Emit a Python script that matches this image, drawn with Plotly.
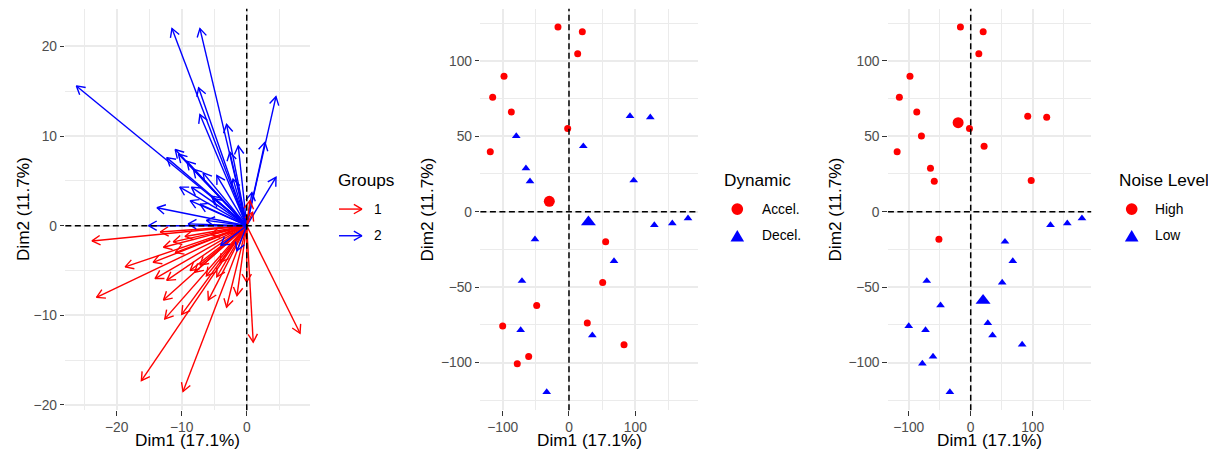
import numpy as np
import plotly.graph_objects as go

# ---------------- data ----------------
# Variable arrows (loadings), group 1 (red) and group 2 (blue)
group1_dim1 = [-23.8, -23.1, -18.7, -14.4, -14.1, -12.3, -12.8, -12.6, -10.0, -16.2,
               -9.8, -13.3, -12.8, -11.3, -8.7, -8.0, -6.2, -4.6, -5.9, -3.1,
               -1.5, 0.0, 1.0, 8.2, -7.2, -4.1, -5.5, -3.0, -11.0, -9.5]
group1_dim2 = [-1.7, -8.0, -4.6, -4.1, -5.9, -6.1, -8.3, -10.4, -9.9, -17.3,
               -18.5, -0.7, -2.4, -1.8, -5.0, -5.2, -5.6, -5.7, -8.3, -9.1,
               -7.8, -6.3, -13.0, -12.0, -4.4, -4.1, -1.0, -0.8, -3.0, -1.2]
group1_up_dim1 = [0.5, 0.9]
group1_up_dim2 = [2.8, 1.5]

group2_dim1 = [-26.2, -11.5, -7.2, -7.4, -7.2, -3.1, -1.3, -2.6, 4.5, 2.8,
               4.5, 0.8, -11.0, -12.3, -9.2, -8.2, -10.3, -8.5, -6.7, -4.6,
               -8.7, -7.2, -13.8, -5.4, -15.1, -9.0, -6.2, -1.5, -4.0, -2.1,
               -10.5, -5.1]
group2_dim2 = [15.6, 22.0, 22.0, 15.4, 12.4, 11.3, 8.9, 8.2, 14.4, 9.3,
               5.4, 3.7, 8.5, 7.6, 7.2, 6.3, 4.3, 4.3, 5.9, 5.6,
               2.8, 2.4, 2.0, 3.3, 0.0, 0.2, 0.6, -2.8, -2.2, 5.2,
               8.0, 3.0]

# Individuals
ind_dim1 = [-16.6, 20.1, 13.1, -98.0, -115.1, -87.0, -2.0, -118.7,
            55.3, 50.8, -48.7, -100.0, 27.6, 83.0, -60.8, -78.0,
            -79.5, -64.9, -58.8, 21.6, 92.0, 122.6, 97.6, -51.3,
            128.7, 155.8, 179.5, 67.9, -70.9, -72.9, 35.2, -33.6]
ind_dim2 = [122.3, 119.2, 104.6, 89.8, 75.9, 66.0, 55.2, 39.7,
            -19.9, -47.0, -62.1, -75.8, -73.8, -88.1, -96.0, -100.7,
            50.1, 28.7, 20.1, 43.4, 63.3, 62.5, 20.7, -18.3,
            -8.9, -7.7, -4.4, -32.7, -45.9, -78.4, -81.9, -119.5]
dynamic = ["Accel."] * 16 + ["Decel."] * 16
noise = (["High"] * 8 + ["Low"] * 8) + (["High"] * 8 + ["Low"] * 8)

dyn_levels = ["Accel.", "Decel."]
noise_levels = ["High", "Low"]
group_levels = ["1", "2"]

axis_title_x = "Dim1 (17.1%)"
axis_title_y = "Dim2 (11.7%)"

# ---------------- styling ----------------
W, H = 1208, 451
FONT = "Liberation Sans, Arial, Helvetica, sans-serif"
RED, BLUE = "#FF0000", "#0000FF"
level_color = {"Accel.": RED, "Decel.": BLUE, "High": RED, "Low": BLUE}
level_symbol = {"Accel.": "circle", "Decel.": "triangle-up", "High": "circle", "Low": "triangle-up"}

TOP, BOT = 8.9, 412.1
panel_px = {1: (65.35, 310.1), 2: (480.4, 697.9), 3: (887.9, 1091.2)}
xr = {1: [-27.9, 9.75], 2: [-133.6, 194.4], 3: [-133.6, 194.4]}
yr = {1: [-20.6, 24.2], 2: [-131.6, 134.4], 3: [-131.6, 134.4]}
xdt = {1: (10, 5), 2: (100, 50), 3: (100, 50)}
ydt = {1: (10, 5), 2: (50, 25), 3: (50, 25)}


def px(p):
    return p / W


def py(p):
    return 1 - p / H


fig = go.Figure()

# ---------- panel 1: arrows ----------
sx1 = (panel_px[1][1] - panel_px[1][0]) / (xr[1][1] - xr[1][0])
sy1 = (BOT - TOP) / (yr[1][1] - yr[1][0])
HEAD = 9.4
ANG = np.deg2rad(30)


def arrows(xs, ys, sx, sy):
    ox, oy = [], []
    for x, y in zip(xs, ys):
        th = np.arctan2(y * sy, x * sx)
        ox += [0, x, None]
        oy += [0, y, None]
        h = []
        for s in (1, -1):
            h.append((x - HEAD * np.cos(th + s * ANG) / sx,
                      y - HEAD * np.sin(th + s * ANG) / sy))
        ox += [h[0][0], x, h[1][0], None]
        oy += [h[0][1], y, h[1][1], None]
    return ox, oy


for xs, ys, col in [(group1_dim1, group1_dim2, RED),
                    (group2_dim1, group2_dim2, BLUE),
                    (group1_up_dim1, group1_up_dim2, RED)]:
    ax_, ay_ = arrows(xs, ys, sx1, sy1)
    fig.add_trace(go.Scatter(x=ax_, y=ay_, mode="lines", xaxis="x", yaxis="y",
                             line=dict(color=col, width=1.4), showlegend=False,
                             hoverinfo="skip"))

# ---------- panels 2 & 3: individuals ----------
d1 = np.array(ind_dim1)
d2 = np.array(ind_dim2)
for k, labels, levels in [(2, dynamic, dyn_levels), (3, noise, noise_levels)]:
    lab = np.array(labels)
    for lv in levels:
        m = lab == lv
        sym = level_symbol[lv]
        fig.add_trace(go.Scatter(x=d1[m], y=d2[m], mode="markers",
                                 xaxis=f"x{k}", yaxis=f"y{k}",
                                 marker=dict(color=level_color[lv], symbol=sym,
                                             size=7 if sym == "circle" else 7.6,
                                             line=dict(width=0)),
                                 showlegend=False, name=lv))
    for lv in levels:
        m = lab == lv
        sym = level_symbol[lv]
        fig.add_trace(go.Scatter(x=[d1[m].mean()], y=[d2[m].mean()], mode="markers",
                                 xaxis=f"x{k}", yaxis=f"y{k}",
                                 marker=dict(color=level_color[lv], symbol=sym,
                                             size=11 if sym == "circle" else 13,
                                             line=dict(width=0)),
                                 showlegend=False, name=lv + " mean"))

# ---------- axes ----------
layout = dict(width=W, height=H, margin=dict(l=0, r=0, t=0, b=0),
              paper_bgcolor="white", plot_bgcolor="white",
              font=dict(family=FONT, color="#000000"), showlegend=False)
shapes = []
annotations = []
for k in (1, 2, 3):
    sfx = "" if k == 1 else str(k)
    common = dict(showgrid=True, gridcolor="#EBEBEB", gridwidth=1.5, zeroline=False,
                  showline=False, ticks="outside", ticklen=4.6, tickwidth=1.3,
                  tickcolor="#333333", tickmode="linear",
                  tickfont=dict(family=FONT, size=13.8, color="#4D4D4D"))
    layout["xaxis" + sfx] = dict(common, domain=[px(panel_px[k][0]), px(panel_px[k][1])],
                                 range=xr[k], anchor="y" + sfx, dtick=xdt[k][0], tick0=0,
                                 minor=dict(dtick=xdt[k][1], tick0=0, showgrid=True,
                                            gridcolor="#EBEBEB", gridwidth=0.8, ticks=""))
    layout["yaxis" + sfx] = dict(common, domain=[py(BOT), py(TOP)],
                                 range=yr[k], anchor="x" + sfx, dtick=ydt[k][0], tick0=0,
                                 minor=dict(dtick=ydt[k][1], tick0=0, showgrid=True,
                                            gridcolor="#EBEBEB", gridwidth=0.8, ticks=""))
    dash = dict(color="#000000", width=1.5, dash="6px,3.5px")
    shapes.append(dict(type="line", xref="x" + sfx, yref="y" + sfx + " domain",
                       x0=0, x1=0, y0=0, y1=1, line=dash, layer="above"))
    shapes.append(dict(type="line", xref="x" + sfx + " domain", yref="y" + sfx,
                       x0=0, x1=1, y0=0, y1=0, line=dash, layer="above"))
    cx = (panel_px[k][0] + panel_px[k][1]) / 2
    annotations.append(dict(text=axis_title_x, x=px(cx), y=py(441.5), xref="paper", yref="paper",
                            xanchor="center", yanchor="middle", showarrow=False, borderpad=0,
                            font=dict(size=17.2, family=FONT, color="#000000")))
    ylab_x = {1: 22.5, 2: 427, 3: 835}[k]
    annotations.append(dict(text=axis_title_y, x=px(ylab_x), y=py((TOP + BOT) / 2),
                            xref="paper", yref="paper", textangle=-90,
                            xanchor="center", yanchor="middle", showarrow=False,
                            font=dict(size=17.2, family=FONT, color="#000000")))

# ---------- legends (drawn keys + text) ----------
def legend_title(text, x, y):
    annotations.append(dict(text=text, x=px(x), y=py(y), xref="paper", yref="paper",
                            xanchor="left", yanchor="middle", showarrow=False,
                            font=dict(size=17.2, family=FONT, color="#000000")))


def legend_label(text, x, y):
    annotations.append(dict(text=text, x=px(x), y=py(y), xref="paper", yref="paper",
                            xanchor="left", yanchor="middle", showarrow=False,
                            font=dict(size=13.8, family=FONT, color="#000000")))


# Groups
legend_title("Groups", 335.5, 181)
for lv, col, yy in [(group_levels[0], RED, 210), (group_levels[1], BLUE, 236.8)]:
    x0, x1 = 339, 362
    ln = dict(color=col, width=1.4)
    shapes.append(dict(type="line", xref="paper", yref="paper",
                       x0=px(x0), x1=px(x1), y0=py(yy), y1=py(yy), line=ln))
    for s in (1, -1):
        shapes.append(dict(type="line", xref="paper", yref="paper",
                           x0=px(x1 - HEAD * np.cos(ANG)), y0=py(yy + s * HEAD * np.sin(ANG)),
                           x1=px(x1), y1=py(yy), line=ln))
    legend_label(lv, 372, yy)


def key_circle(cx, cy, col, d=11.7):
    shapes.append(dict(type="circle", xref="paper", yref="paper",
                       x0=px(cx - d / 2), x1=px(cx + d / 2), y0=py(cy + d / 2), y1=py(cy - d / 2),
                       fillcolor=col, line=dict(width=0)))


def key_triangle(cx, cy, col, w=13.6, h=11.6):
    path = (f"M {px(cx - w / 2)},{py(cy + h / 2)} L {px(cx + w / 2)},{py(cy + h / 2)} "
            f"L {px(cx)},{py(cy - h / 2)} Z")
    shapes.append(dict(type="path", xref="paper", yref="paper", path=path,
                       fillcolor=col, line=dict(width=0)))


for title, lvls, tx, kx, lx in [("Dynamic", dyn_levels, 722, 737.3, 759.5),
                                ("Noise Level", noise_levels, 1117, 1131.7, 1153)]:
    legend_title(title, tx, 181)
    for lv, yy in zip(lvls, (210, 236.8)):
        if level_symbol[lv] == "circle":
            key_circle(kx, yy, level_color[lv])
        else:
            key_triangle(kx, yy, level_color[lv])
        legend_label(lv, lx, yy)

layout["shapes"] = shapes
layout["annotations"] = annotations
fig.update_layout(**layout)
fig.write_html("out.html",
               config={"displayModeBar": False},
               post_script="document.body.style.margin='0px';"
                           "document.body.style.overflow='hidden';")
